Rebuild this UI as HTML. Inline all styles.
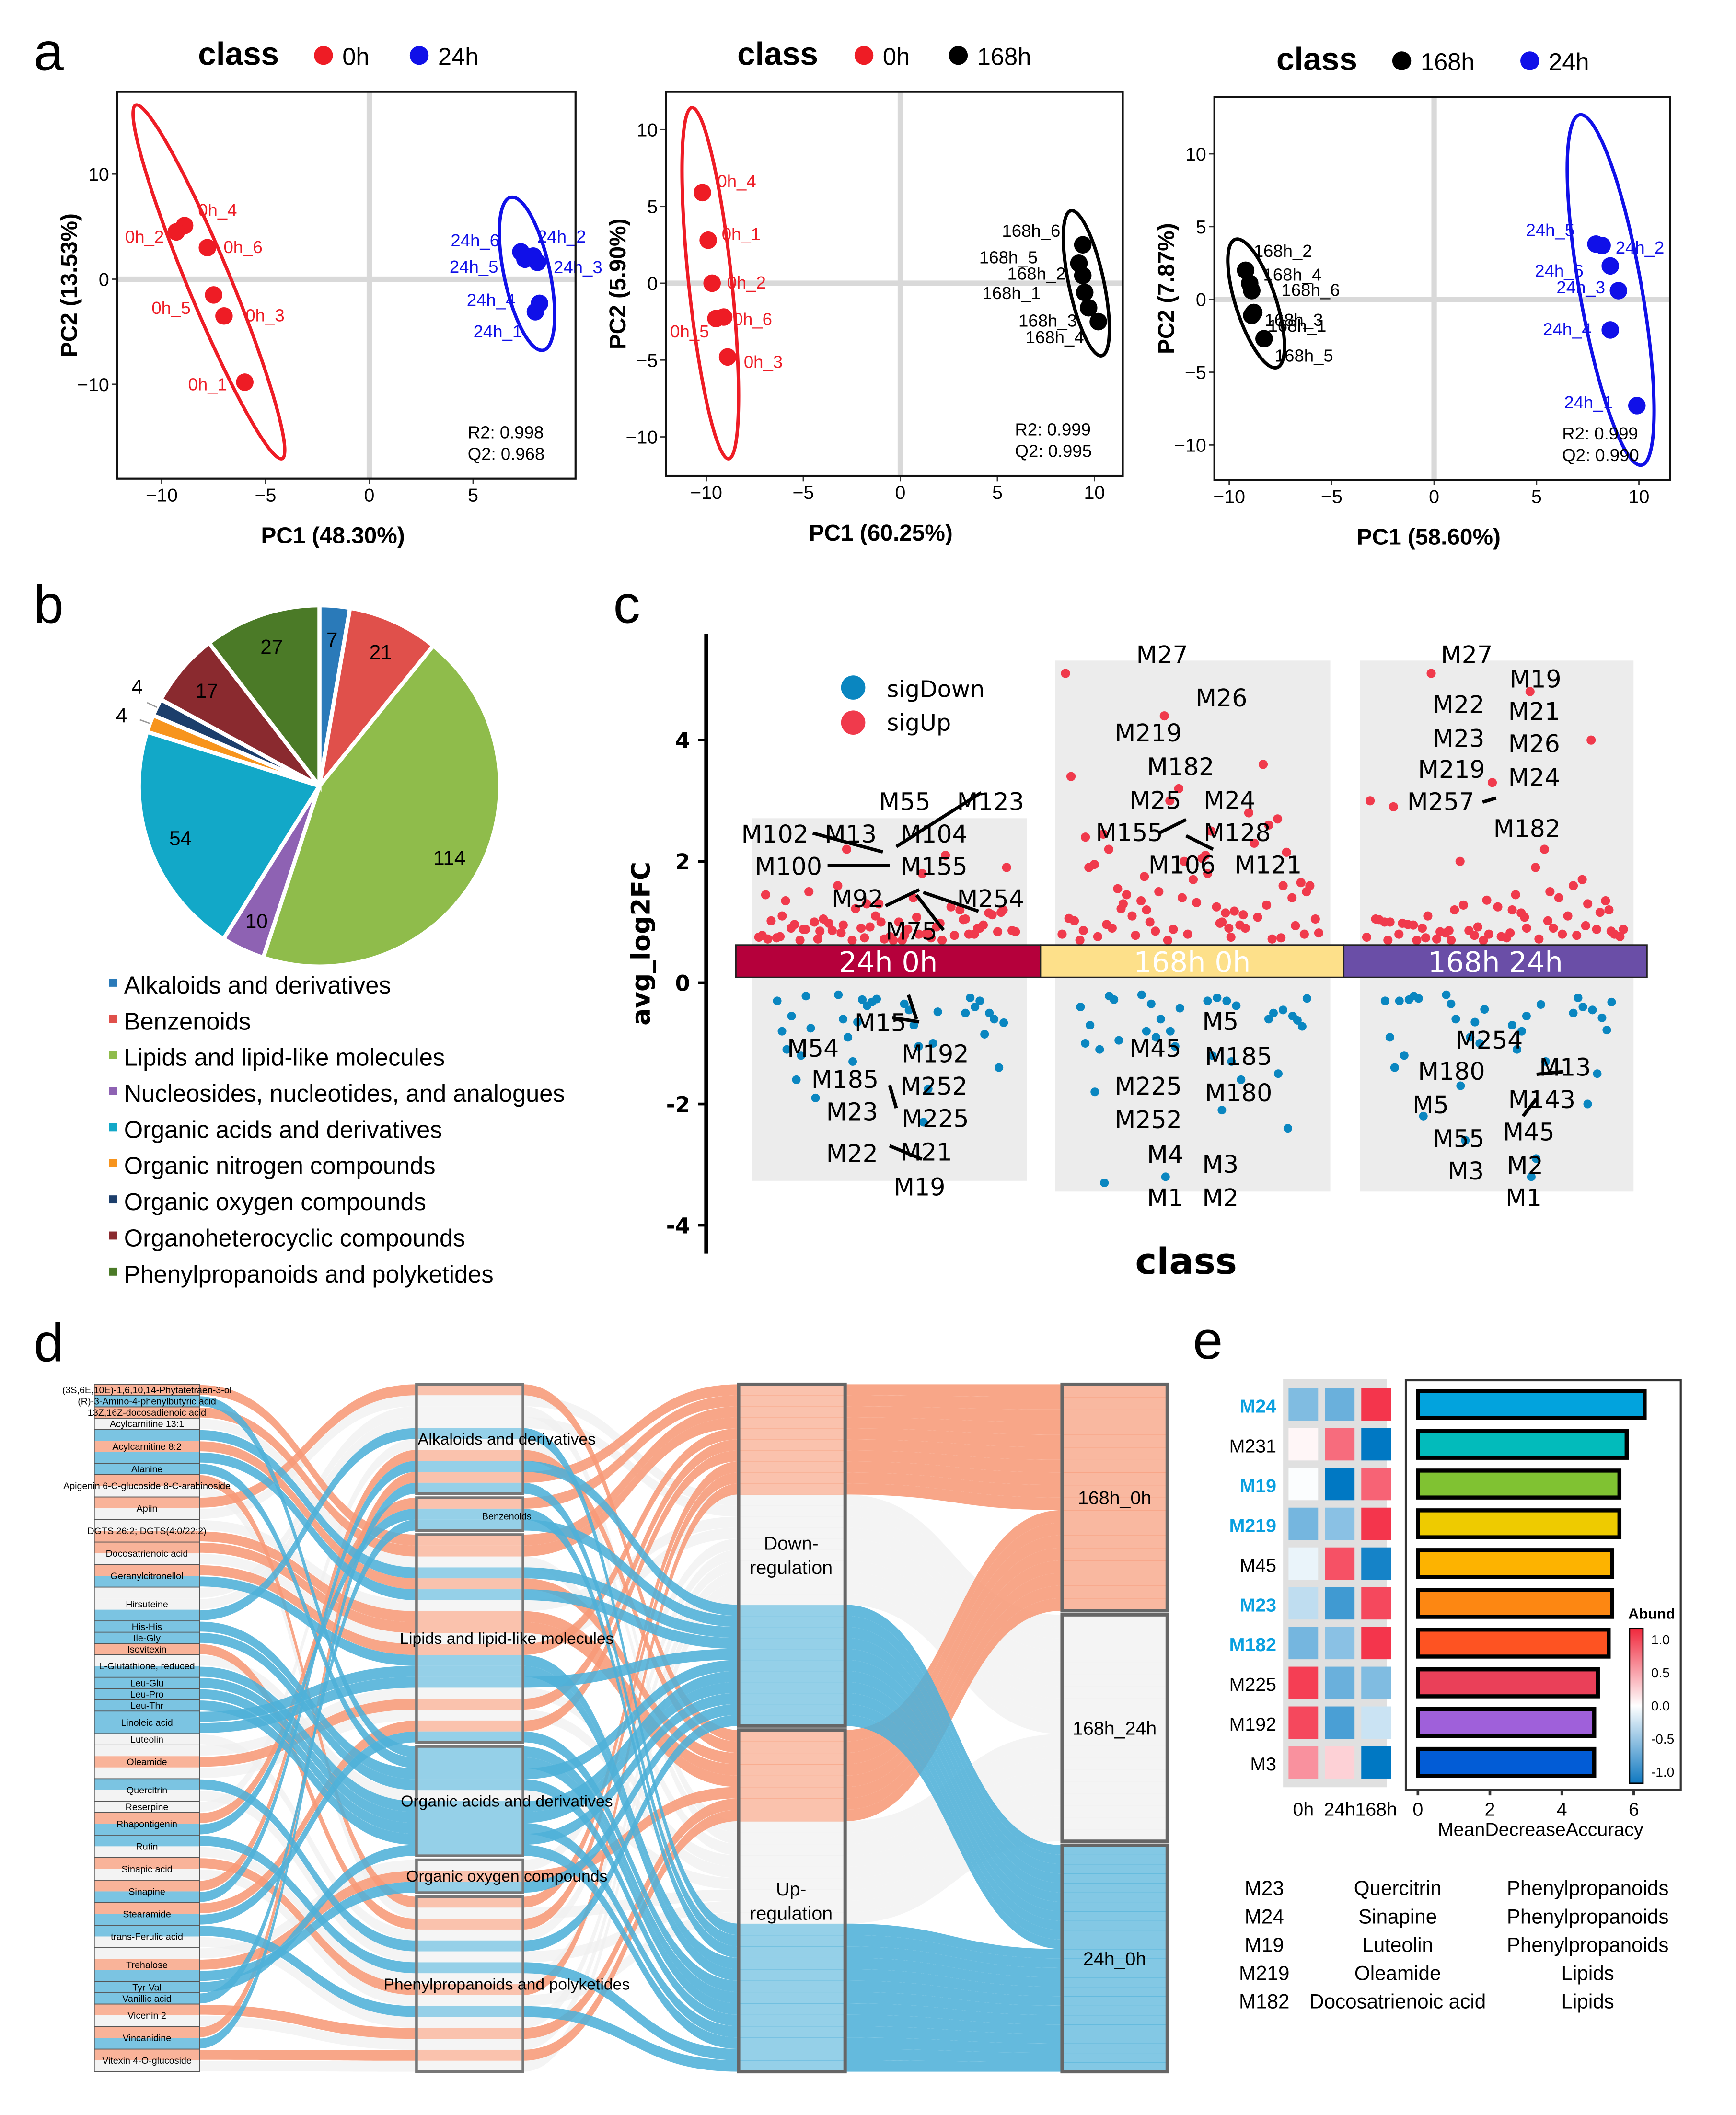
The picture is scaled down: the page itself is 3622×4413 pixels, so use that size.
<!DOCTYPE html>
<html><head><meta charset="utf-8"><style>
html,body{margin:0;padding:0;background:#fff}
svg{display:block;font-family:"Liberation Sans",Arial,sans-serif}
</style></head><body>
<svg id="fig" width="3622" height="4413" viewBox="0 0 1288 1569" xmlns="http://www.w3.org/2000/svg"></svg>
<script>
const NS='http://www.w3.org/2000/svg';
const svg=document.getElementById('fig');
function mk(tag,attrs,name,parent){
  const el=document.createElementNS(NS,tag);
  for(const k in attrs) el.setAttribute(k,attrs[k]);
  
  
  (parent||svg).appendChild(el);return el;
}
function txt(x,y,s,size,name,o){o=o||{};
  const el=mk('text',{x:x,y:y,'font-size':size,fill:o.fill||'#000','font-weight':o.bold?'bold':'normal','text-anchor':o.anchor||'start','font-family':o.font||'"Liberation Sans",Arial,sans-serif'},name,o.parent);
  if(o.rot!==undefined) el.setAttribute('transform','rotate('+o.rot+' '+x+' '+y+')');
  el.textContent=s;return el;}

/* ================= PANEL A: PCA data ================= */
const pca1_names_a=['0h_4','0h_2','0h_6','0h_5','0h_3','0h_1'];
const pca1_pc1_a=[-8.9,-9.3,-7.8,-7.5,-7.0,-6.0];
const pca1_pc2_a=[5.1,4.5,3.0,-1.5,-3.5,-9.8];
const pca1_names_b=['24h_6','24h_5','24h_2','24h_3','24h_4','24h_1'];
const pca1_pc1_b=[7.3,7.5,7.9,8.1,8.2,8.0];
const pca1_pc2_b=[2.6,1.9,2.2,1.6,-2.3,-3.1];
const pca2_names_a=['0h_4','0h_1','0h_2','0h_6','0h_5','0h_3'];
const pca2_pc1_a=[-10.2,-9.9,-9.7,-9.1,-9.5,-8.9];
const pca2_pc2_a=[5.9,2.8,0.0,-2.2,-2.3,-4.8];
const pca2_names_b=['168h_6','168h_5','168h_2','168h_1','168h_3','168h_4'];
const pca2_pc1_b=[9.4,9.2,9.4,9.5,9.7,10.2];
const pca2_pc2_b=[2.5,1.3,0.5,-0.6,-1.6,-2.5];
const pca3_names_a=['168h_2','168h_4','168h_6','168h_3','168h_1','168h_5'];
const pca3_pc1_a=[-9.2,-9.0,-8.9,-8.8,-8.9,-8.3];
const pca3_pc2_a=[2.0,1.1,0.6,-0.9,-1.1,-2.7];
const pca3_names_b=['24h_5','24h_2','24h_6','24h_3','24h_4','24h_1'];
const pca3_pc1_b=[7.9,8.2,8.6,9.0,8.6,9.9];
const pca3_pc2_b=[3.8,3.7,2.3,0.6,-2.1,-7.3];

function pca(c){
  const sx=v=>c.x0+v*c.kx, sy=v=>c.y0-v*c.ky;
  mk('line',{x1:sx(0),x2:sx(0),y1:c.box[1],y2:c.box[3],stroke:'#d9d9d9','stroke-width':4},'zero-line-x');
  mk('line',{x1:c.box[0],x2:c.box[2],y1:sy(0),y2:sy(0),stroke:'#d9d9d9','stroke-width':4},'zero-line-y');
  c.xt.forEach(v=>{mk('line',{x1:sx(v),x2:sx(v),y1:c.box[3],y2:c.box[3]+4,stroke:'#333'},'x-tick');txt(sx(v),c.box[3]+17,String(v).replace('-','−'),14,'x-tick-label',{anchor:'middle'});});
  c.yt.forEach(v=>{mk('line',{x1:c.box[0]-4,x2:c.box[0],y1:sy(v),y2:sy(v),stroke:'#333'},'y-tick');txt(c.box[0]-6,sy(v)+5,String(v).replace('-','−'),14,'y-tick-label',{anchor:'end'});});
  c.ell.forEach(e=>mk('ellipse',{cx:e[0],cy:e[1],rx:e[2],ry:e[3],transform:'rotate('+e[4]+' '+e[0]+' '+e[1]+')',fill:'none',stroke:e[5],'stroke-width':2.5},'confidence-ellipse'));
  c.groups.forEach(g=>{
    g.p1.forEach((v,i)=>{
      mk('circle',{cx:sx(v),cy:sy(g.p2[i]),r:6.5,fill:g.col},'sample-point');
      const off=g.off[i];
      txt(sx(v)+off[0],sy(g.p2[i])+off[1],g.names[i],13,'sample-label',{fill:g.col});
    });
  });
  mk('rect',{x:c.box[0],y:c.box[1],width:c.box[2]-c.box[0],height:c.box[3]-c.box[1],fill:'none',stroke:'#111','stroke-width':1.5},'plot-border');
  txt(c.box[2]-80,c.box[3]-30,'R2: '+c.r2,13,'r2-value');
  txt(c.box[2]-80,c.box[3]-14,'Q2: '+c.q2,13,'q2-value');
  txt((c.box[0]+c.box[2])/2-10,c.box[3]+48,c.xl,17,'x-axis-title',{bold:1,anchor:'middle'});
  txt(c.box[0]-30,(c.box[1]+c.box[3])/2,c.yl,17,'y-axis-title',{bold:1,anchor:'middle',rot:-90});
  txt(c.leg[0],c.leg[1],'class',24,'legend-title',{bold:1,anchor:'middle'});
  c.legItems.forEach(li=>{mk('circle',{cx:li[0],cy:c.leg[1]-7,r:7,fill:li[2]},'legend-key');txt(li[0]+14,c.leg[1],li[1],18,'legend-label');});
}
txt(25,52,'a',40,'panel-label-a');
pca({box:[87,68,427,355],x0:274,kx:15.4,y0:207,ky:7.8,xt:[-10,-5,0,5],yt:[10,0,-10],
 ell:[[155,209,16,142,-22.5,'#ee1c25'],[391,203,17,58,-12,'#1010e8']],
 groups:[{names:pca1_names_a,p1:pca1_pc1_a,p2:pca1_pc2_a,col:'#ee1c25',off:[[10,-7],[-38,8],[12,4],[-46,14],[16,4],[-42,6]]},
         {names:pca1_names_b,p1:pca1_pc1_b,p2:pca1_pc2_b,col:'#1010e8',off:[[-52,-4],[-56,10],[3,-10],[12,8],[-54,2],[-46,19]]}],
 r2:'0.998',q2:'0.968',xl:'PC1 (48.30%)',yl:'PC2 (13.53%)',leg:[177,48],legItems:[[240,'0h','#ee1c25'],[311,'24h','#1010e8']]});
pca({box:[494,68,833,353],x0:668,kx:14.4,y0:210,ky:11.4,xt:[-10,-5,0,5,10],yt:[10,5,0,-5,-10],
 ell:[[527,210,16,131,-6,'#ee1c25'],[806,210,13,55,-12,'#000']],
 groups:[{names:pca2_names_a,p1:pca2_pc1_a,p2:pca2_pc2_a,col:'#ee1c25',off:[[11,-4],[10,0],[11,4],[7,6],[-34,14],[12,8]]},
         {names:pca2_names_b,p1:pca2_pc1_b,p2:pca2_pc2_b,col:'#000',off:[[-60,-6],[-74,0],[-56,3],[-76,5],[-52,14],[-54,16]]}],
 r2:'0.999',q2:'0.995',xl:'PC1 (60.25%)',yl:'PC2 (5.90%)',leg:[577,48],legItems:[[641,'0h','#ee1c25'],[711,'168h','#000']]});
pca({box:[901,72,1239,356],x0:1064,kx:15.2,y0:222,ky:10.8,xt:[-10,-5,0,5,10],yt:[10,5,0,-5,-10],
 ell:[[932,225,15,50,-18,'#000'],[1195,215,23,132,-10,'#1010e8']],
 groups:[{names:pca3_names_a,p1:pca3_pc1_a,p2:pca3_pc2_a,col:'#000',off:[[6,-10],[10,-2],[22,4],[8,10],[12,12],[8,17]]},
         {names:pca3_names_b,p1:pca3_pc1_b,p2:pca3_pc2_b,col:'#1010e8',off:[[-52,-6],[10,6],[-56,8],[-46,2],[-50,4],[-54,2]]}],
 r2:'0.999',q2:'0.990',xl:'PC1 (58.60%)',yl:'PC2 (7.87%)',leg:[977,52],legItems:[[1040,'168h','#000'],[1135,'24h','#1010e8']]});

/* ================= PANEL B: pie ================= */
const pie_categories=['Alkaloids and derivatives','Benzenoids','Lipids and lipid-like molecules','Nucleosides, nucleotides, and analogues','Organic acids and derivatives','Organic nitrogen compounds','Organic oxygen compounds','Organoheterocyclic compounds','Phenylpropanoids and polyketides'];
const pie_values=[7,21,114,10,54,4,4,17,27];
const pie_colors=['#2a7ab9','#e0504b','#8fbc4b','#8e62b3','#12a8c8','#f7941d','#1c3e6b','#8a2a2f','#4b7a27'];
txt(25,462,'b',40,'panel-label-b');
(function(){
  const cx=237,cy=583,r=134,tot=pie_values.reduce((a,b)=>a+b,0);
  let a0=-Math.PI/2;
  pie_values.forEach((v,i)=>{
    const a1=a0+v/tot*2*Math.PI;
    const large=(a1-a0)>Math.PI?1:0;
    const d='M'+cx+','+cy+'L'+(cx+r*Math.cos(a0))+','+(cy+r*Math.sin(a0))+'A'+r+','+r+' 0 '+large+' 1 '+(cx+r*Math.cos(a1))+','+(cy+r*Math.sin(a1))+'Z';
    mk('path',{d:d,fill:pie_colors[i],stroke:'#fff','stroke-width':3},'pie-slice-'+i);
    const am=(a0+a1)/2;
    if(v>5){const lr=r*0.82;txt(cx+lr*Math.cos(am),cy+lr*Math.sin(am)+6,String(v),15,'pie-value-label',{anchor:'middle'});}
    else{const lr=r+14;mk('line',{x1:cx+r*Math.cos(am),y1:cy+r*Math.sin(am),x2:cx+(r+8)*Math.cos(am),y2:cy+(r+8)*Math.sin(am),stroke:'#999'},'pie-leader');
      txt(cx+lr*Math.cos(am)-(i===5?8:2),cy+lr*Math.sin(am)+(i===5?4:-4),String(v),15,'pie-value-label',{anchor:'middle'});}
    a0=a1;
  });
  pie_categories.forEach((c,i)=>{
    const y=731+i*26.8;
    mk('rect',{x:81,y:y-5,width:6,height:6,fill:pie_colors[i]},'legend-swatch');
    txt(92,y+6,c,18,'legend-label');
  });
})();

/* ================= PANEL C: volcano/strip ================= */
const vol_groups=['24h_0h','168h_0h','168h_24h'];
const vol_up_g1=[0.75,0.8,0.85,0.9,1.0,1.1,0.7,0.95,1.2,0.78,0.88,1.05,1.3,0.72,0.82,0.98,1.15,0.76,0.9,1.25,0.7,0.86,1.4,1.0,0.8,1.1,0.74,0.92,1.6,0.84,1.0,0.7,1.2,0.9,0.78,1.8,1.05,0.95,0.72,1.35,2.1,2.2,1.9,0.88,1.5,0.8,0.92,1.02,0.74,0.86,1.12,0.7,0.96,0.78,1.22,0.84,1.08,0.72,0.9,1.3,0.76,0.98,0.82,1.16,0.7,0.88,1.04,0.74,1.45,0.8];
const vol_down_g1=[-0.2,-0.3,-0.5,-0.35,-0.6,-0.8,-0.25,-0.45,-0.9,-1.1,-0.4,-0.7,-1.3,-0.55,-0.3,-1.05,-0.65,-1.6,-0.85,-2.3,-0.28,-1.2,-0.5,-1.75,-0.38,-0.22,-0.6,-1.0,-0.32,-0.75,-1.4,-0.48,-0.27,-1.9,-0.66];
const vol_up_g2=[0.8,1.0,1.3,1.6,2.0,2.4,0.9,1.2,1.5,1.8,2.2,2.6,3.0,3.4,0.75,1.1,1.4,1.7,1.95,2.3,0.85,1.05,1.25,1.55,2.7,3.2,0.7,0.95,1.35,1.65,2.05,2.45,3.6,4.4,5.1,1.15,1.45,2.15,0.8,1.9,2.8,1.0,1.6,2.5,0.9,0.72,0.88,1.02,1.18,0.78,0.94,1.32,0.76,1.08,1.5,0.82,0.98,1.22,0.74,1.4,0.86,1.12,1.75,0.8,2.1,0.96,1.28,0.7,1.06,0.9];
const vol_down_g2=[-0.2,-0.4,-0.6,-0.3,-0.8,-1.0,-0.5,-1.2,-0.35,-0.7,-1.5,-0.25,-0.9,-1.8,-0.45,-2.1,-0.6,-1.1,-2.4,-0.3,-3.2,-3.3,-0.55,-1.3,-0.8,-0.22,-0.62,-0.38,-1.05,-0.28,-0.72,-1.6,-0.42,-0.95,-0.26];
const vol_up_g3=[0.75,0.9,1.1,1.3,0.8,1.0,1.5,0.7,0.85,1.2,0.95,1.6,0.78,1.05,1.9,0.72,0.88,1.25,0.8,1.4,2.0,0.76,1.15,0.9,1.7,0.7,1.0,2.2,0.82,1.35,0.74,0.96,1.1,0.86,3.0,4.8,5.1,4.0,3.3,2.9,0.9,1.2,0.8,1.45,0.7,0.78,0.92,1.04,0.72,0.84,1.16,0.76,0.98,0.8,1.28,0.88,1.08,0.74,0.94,1.36,0.7,1.02,0.86,1.2,0.82];
const vol_down_g3=[-0.2,-0.3,-0.5,-0.7,-0.35,-0.9,-0.25,-1.1,-0.6,-1.4,-0.4,-0.8,-1.7,-0.3,-2.0,-0.55,-2.6,-1.2,-0.45,-3.2,-0.9,-0.28,-1.5,-2.9,-0.65,-0.22,-0.58,-0.36,-1.0,-0.26,-0.78,-1.3,-0.44,-2.2,-0.32];
const vol_ticks=[4,2,0,-2,-4];
const vol_labels_g1=['M55','M123','M102','M13','M104','M100','M155','M92','M254','M75','M15','M54','M192','M185','M252','M23','M225','M22','M21','M19'];
const vol_labels_g2=['M27','M26','M219','M182','M25','M24','M155','M128','M106','M121','M5','M45','M185','M225','M180','M252','M4','M3','M1','M2'];
const vol_labels_g3=['M27','M19','M22','M21','M23','M26','M219','M24','M257','M182','M254','M180','M13','M5','M143','M55','M45','M3','M2','M1'];
(function(){
  const y0=729,ky=45,sy=v=>y0-v*ky;
  txt(455,462,'c',40,'panel-label-c');
  const boxes=[[558,607,762,876],[783,490,987,884],[1009,490,1212,884]];
  boxes.forEach(b=>mk('rect',{x:b[0],y:b[1],width:b[2]-b[0],height:b[3]-b[1],fill:'#ececec'},'group-panel-bg'));
  const ups=[vol_up_g1,vol_up_g2,vol_up_g3],downs=[vol_down_g1,vol_down_g2,vol_down_g3];
  const centers=[659,884,1110];
  ups.forEach((arr,g)=>arr.forEach((v,i)=>{const j=((i*0.618034)%1)-0.5;mk('circle',{cx:centers[g]+j*192,cy:sy(v),r:3.4,fill:'#f03a4c'},'sigup-point');}));
  downs.forEach((arr,g)=>arr.forEach((v,i)=>{const j=((i*0.7548+0.3)%1)-0.5;mk('circle',{cx:centers[g]+j*185,cy:sy(v),r:3.2,fill:'#0a86c0'},'sigdown-point');}));
  const bars=[[546,772,'#b5003b','24h_0h'],[772,997,'#fde08a','168h_0h'],[997,1222,'#6a4ea7','168h_24h']];
  bars.forEach(b=>{mk('rect',{x:b[0],y:701,width:b[1]-b[0],height:24,fill:b[2],stroke:'#222','stroke-width':1},'group-bar');
    txt((b[0]+b[1])/2,721,b[3].replace('_',' '),21,'group-bar-label',{fill:'#fff',anchor:'middle',font:'"DejaVu Sans",sans-serif'});});
  mk('line',{x1:524,x2:524,y1:470,y2:930,stroke:'#000','stroke-width':3},'y-axis-line');
  vol_ticks.forEach(v=>{mk('line',{x1:518,x2:524,y1:sy(v),y2:sy(v),stroke:'#000','stroke-width':2},'y-tick');
    txt(512,sy(v)+6,String(v),16,'y-tick-label',{bold:1,anchor:'end',font:'"DejaVu Sans",sans-serif'});});
  txt(482,700,'avg_log2FC',19,'y-axis-title',{bold:1,anchor:'middle',rot:-90,font:'"DejaVu Sans",sans-serif'});
  txt(880,945,'class',27,'x-axis-title',{bold:1,anchor:'middle',font:'"DejaVu Sans",sans-serif'});
  mk('circle',{cx:633,cy:510,r:9,fill:'#0a86c0'},'legend-key-sigdown');
  txt(658,517,'sigDown',17,'legend-label',{font:'"DejaVu Sans",sans-serif'});
  mk('circle',{cx:633,cy:536,r:9,fill:'#f03a4c'},'legend-key-sigup');
  txt(658,542,'sigUp',17,'legend-label',{font:'"DejaVu Sans",sans-serif'});
  const pos1=[[652,601],[710,601],[550,625],[612,625],[668,625],[560,649],[668,649],[617,673],[710,673],[657,697],[634,765],[584,784],[669,788],[602,807],[668,812],[613,831],[669,836],[613,862],[668,861],[663,887]];
  const pos2=[[843,492],[887,524],[827,550],[851,575],[838,600],[893,600],[813,624],[893,624],[852,648],[916,648],[892,764],[838,784],[894,790],[827,812],[894,817],[827,837],[851,863],[892,870],[851,895],[892,895]];
  const pos3=[[1069,492],[1120,510],[1063,529],[1119,534],[1063,554],[1119,558],[1052,577],[1119,583],[1044,601],[1108,621],[1080,778],[1052,801],[1142,798],[1048,826],[1119,822],[1063,851],[1115,846],[1074,875],[1118,871],[1117,895]];
  [[vol_labels_g1,pos1],[vol_labels_g2,pos2],[vol_labels_g3,pos3]].forEach(p=>p[0].forEach((l,i)=>txt(p[1][i][0],p[1][i][1],l,18,'point-label',{font:'"DejaVu Sans",sans-serif'})));
  const lines=[[603,618,655,632],[614,642,660,642],[728,588,665,628],[657,672,682,660],[685,662,726,676],[680,664,700,690],[674,738,680,756],[662,755,682,758],[660,805,665,822],[660,850,684,860],[1100,595,1110,592],[880,620,900,630],[880,608,860,618],[1140,797,1160,795],[1140,815,1130,828]];
  lines.forEach(l=>mk('line',{x1:l[0],y1:l[1],x2:l[2],y2:l[3],stroke:'#000','stroke-width':2.5},'label-leader'));
})();

/* ================= PANEL D: sankey ================= */
const sk_items=['(3S,6E,10E)-1,6,10,14-Phytatetraen-3-ol','(R)-3-Amino-4-phenylbutyric acid','13Z,16Z-docosadienoic acid','Acylcarnitine 13:1','Acylcarnitine 8:2','Alanine','Apigenin 6-C-glucoside 8-C-arabinoside','Apiin','DGTS 26:2; DGTS(4:0/22:2)','Docosatrienoic acid','Geranylcitronellol','Hirsuteine','His-His','Ile-Gly','Isovitexin','L-Glutathione, reduced','Leu-Glu','Leu-Pro','Leu-Thr','Linoleic acid','Luteolin','Oleamide','Quercitrin','Reserpine','Rhapontigenin','Rutin','Sinapic acid','Sinapine','Stearamide','trans-Ferulic acid','Trehalose','Tyr-Val','Vanillic acid','Vicenin 2','Vincanidine','Vitexin 4-O-glucoside'];
const sk_cat=['L','O','L','L','L','O','P','A','L','L','L','A','O','O','P','O','O','O','O','L','P','L','P','A','B','P','P','A','L','P','X','O','B','P','A','P'];
const sk_flows=['o','b','o','w','bob','b','ow','ow','wo','ow','ob','wwb','b','b','o','wb','b','b','b','bb','w','wow','bw','w','ob','bw','ow','ob','ob','bw','wob','b','b','ow','ob','ow'];
const sk_cats=['A','B','L','O','X','P'];
const sk_cat_names=['Alkaloids and derivatives','Benzenoids','Lipids and lipid-like molecules','Organic acids and derivatives','Organic oxygen compounds','Phenylpropanoids and polyketides'];
const sk_classes=['168h_0h','168h_24h','24h_0h'];
const sk_regs=['Down-\nregulation','Up-\nregulation'];
(function(){
  txt(25,1010,'d',40,'panel-label-d');
  const col={o:'#f79a77',b:'#4fb0d8',w:'#efefef'};
  const bands=[];
  sk_flows.forEach((f,i)=>f.split('').forEach((c,k)=>bands.push({item:i,c:c,cat:sk_cats.indexOf(sk_cat[i]),cls:c==='o'?0:(c==='w'?1:2),reg:(i+k)%2})));
  const N=bands.length,top=1027,H=510,gap=3,bh=(H-5*gap)/N,bhL=H/N;
  let y=top;const itemY=[];
  sk_flows.forEach((f,i)=>{itemY.push([y,y+f.length*bhL]);y+=f.length*bhL;});
  let idx=0;sk_flows.forEach((f,i)=>{for(let k=0;k<f.length;k++){bands[idx].yl=itemY[i][0]+k*bhL;idx++;}});
  // category nodes
  let yy=top;const catR=[];
  for(let g=0;g<6;g++){const st=yy;bands.filter(b=>b.cat===g).sort((a,b)=>a.yl-b.yl).forEach(b=>{b.ym=yy;b.hm=bh;yy+=bh;});catR.push([st,yy]);yy+=gap;}
  // regulation nodes: equal halves
  const regH=(H-3)/2;const regR=[];
  for(let g=0;g<2;g++){const st=top+g*(regH+3);const bs=bands.filter(b=>b.reg===g).sort((a,b)=>a.cls-b.cls||a.ym-b.ym);const h=regH/bs.length;bs.forEach((b,k)=>{b.yr=st+k*h;b.hr=h;});regR.push([st,st+regH]);}
  // class nodes: equal thirds
  const clsH=(H-6)/3;const clsR=[];
  for(let c=0;c<3;c++){const st=top+c*(clsH+3);const bs=bands.filter(b=>b.cls===c).sort((a,b)=>a.reg-b.reg||a.yr-b.yr);const h=clsH/bs.length;bs.forEach((b,k)=>{b.yc=st+k*h;b.hc=h;});clsR.push([st,st+clsH]);}
  function rib(x0,y0,h0,x1,y1,h1,c,name){const xm=(x0+x1)/2;
    const d='M'+x0+','+y0+'C'+xm+','+y0+' '+xm+','+y1+' '+x1+','+y1+'L'+x1+','+(y1+h1)+'C'+xm+','+(y1+h1)+' '+xm+','+(y0+h0)+' '+x0+','+(y0+h0)+'Z';
    mk('path',{d:d,fill:col[c],opacity:c==='w'?0.7:0.88},name);}
  ['w','o','b'].forEach(cc=>bands.filter(b=>b.c===cc).forEach(b=>{
    rib(148,b.yl+0.5,bhL-1,309,b.ym,b.hm,b.c,'flow-item-to-category');
    rib(388,b.ym,b.hm,548,b.yr,b.hr,b.c,'flow-category-to-regulation');
    rib(627,b.yr,b.hr,788,b.yc,b.hc,b.c,'flow-regulation-to-class');
  }));
  bands.forEach(b=>{
    mk('rect',{x:309,y:b.ym,width:79,height:b.hm,fill:col[b.c],opacity:0.6},'category-node-band');
    mk('rect',{x:548,y:b.yr,width:79,height:b.hr+0.3,fill:col[b.c],opacity:0.6},'regulation-node-band');
    mk('rect',{x:788,y:b.yc,width:78,height:b.hc+0.3,fill:col[b.c],opacity:0.7},'class-node-band');
    mk('rect',{x:70,y:b.yl,width:78,height:bhL,fill:col[b.c],opacity:0.75},'item-node-band');
  });
  itemY.forEach((r,i)=>{mk('rect',{x:70,y:r[0],width:78,height:r[1]-r[0],fill:'none',stroke:'#555','stroke-width':0.6},'item-node');
    txt(109,(r[0]+r[1])/2+2.5,sk_items[i],7,'item-label',{anchor:'middle'});});
  catR.forEach((r,i)=>{mk('rect',{x:309,y:r[0],width:79,height:r[1]-r[0],fill:'none',stroke:'#777','stroke-width':2},'category-node');
    txt(376,(r[0]+r[1])/2+4,sk_cat_names[i],i===1?7:12,'category-label',{anchor:'middle'});});
  regR.forEach((r,i)=>{mk('rect',{x:548,y:r[0],width:79,height:r[1]-r[0],fill:'none',stroke:'#666','stroke-width':2.5},'regulation-node');
    const p=sk_regs[i].split('\n');txt(587,(r[0]+r[1])/2-4,p[0],14,'regulation-label',{anchor:'middle'});txt(587,(r[0]+r[1])/2+14,p[1],14,'regulation-label',{anchor:'middle'});});
  clsR.forEach((r,i)=>{mk('rect',{x:788,y:r[0],width:78,height:r[1]-r[0],fill:'none',stroke:'#666','stroke-width':2.5},'class-node');
    txt(827,(r[0]+r[1])/2+5,sk_classes[i],14,'class-label',{anchor:'middle'});});
})();

/* ================= PANEL E: heatmap + importance bars ================= */
const imp_features=['M24','M231','M19','M219','M45','M23','M182','M225','M192','M3'];
const imp_values=[6.3,5.8,5.6,5.6,5.4,5.4,5.3,5.0,4.9,4.9];
const imp_highlight=[1,0,1,1,0,1,1,0,0,0];
const heat_cols=['0h','24h','168h'];
const heat_0h=[-0.6,0.05,-0.02,-0.65,-0.1,-0.3,-0.65,1.05,1.0,0.6];
const heat_24h=[-0.7,0.8,-1.2,-0.55,0.95,-0.9,-0.55,-0.7,-0.85,0.25];
const heat_168h=[1.1,-1.2,0.85,1.1,-1.1,1.0,1.1,-0.6,-0.25,-1.2];
const imp_ticks=[0,2,4,6];
const legend_ticks=[1.0,0.5,0.0,-0.5,-1.0];
const bar_colors=['#02a3dd','#02bbbb','#80c232','#eecb00','#fdb300','#fd8712','#fe5322','#ea4059','#9f60da','#025cd6'];
(function(){
  txt(885,1008,'e',40,'panel-label-e');
  function heatColor(v){v=Math.max(-1.2,Math.min(1.2,v))/1.2;
    if(v>=0){const t=v;return 'rgb('+Math.round(255-(255-243)*t)+','+Math.round(255-(255-35)*t)+','+Math.round(255-(255-60)*t)+')';}
    const t=-v;return 'rgb('+Math.round(255-(255-0)*t)+','+Math.round(255-(255-120)*t)+','+Math.round(255-(255-195)*t)+')';}
  const rowY=i=>1030+i*29.5;
  mk('rect',{x:952,y:1023,width:77,height:303,fill:'#e0e0e0'},'heatmap-bg');
  const cols=[heat_0h,heat_24h,heat_168h];const cx=[956,983,1010];
  imp_features.forEach((f,i)=>{
    cols.forEach((arr,j)=>mk('rect',{x:cx[j],y:rowY(i),width:22,height:24,fill:heatColor(arr[i])},'heatmap-cell'));
    txt(947,rowY(i)+18,f,14,'feature-label',{anchor:'end',bold:imp_highlight[i],fill:imp_highlight[i]?'#0aa0e0':'#000'});
  });
  heat_cols.forEach((c,j)=>txt(cx[j]+11,1347,c,14,'heatmap-col-label',{anchor:'middle'}));
  const x0=1052,kx=26.7;
  mk('rect',{x:1043,y:1024,width:204,height:304,fill:'#fff',stroke:'#333','stroke-width':1.5},'importance-plot-border');
  imp_values.forEach((v,i)=>mk('rect',{x:x0,y:rowY(i)+2,width:v*kx,height:20,fill:bar_colors[i],stroke:'#000','stroke-width':3},'importance-bar'));
  imp_ticks.forEach(t=>{mk('line',{x1:x0+t*kx,x2:x0+t*kx,y1:1328,y2:1332,stroke:'#333','stroke-width':2},'x-tick');
    txt(x0+t*kx,1347,String(t),14,'x-tick-label',{anchor:'middle'});});
  txt(1143,1362,'MeanDecreaseAccuracy',14,'x-axis-title',{anchor:'middle'});
  txt(1208,1201,'Abund',11,'legend-title',{bold:1});
  const defs=mk('defs',{},'defs');
  const lg=mk('linearGradient',{id:'abund',x1:0,y1:0,x2:0,y2:1},'abund-gradient',defs);
  [[0,'#f0283c'],[0.5,'#ffffff'],[1,'#0f78c0']].forEach(s=>mk('stop',{offset:s[0],'stop-color':s[1]},'gradient-stop',lg));
  mk('rect',{x:1209,y:1208,width:10,height:115,fill:'url(#abund)',stroke:'#000','stroke-width':1},'color-scale-bar');
  legend_ticks.forEach(t=>{const yy=1265-t*49;txt(1225,yy+4,t.toFixed(1),10,'color-scale-label');});
  const tbl=[['M23','Quercitrin','Phenylpropanoids'],['M24','Sinapine','Phenylpropanoids'],['M19','Luteolin','Phenylpropanoids'],['M219','Oleamide','Lipids'],['M182','Docosatrienoic acid','Lipids']];
  tbl.forEach((r,i)=>{const y=1406+i*21;txt(938,y,r[0],15,'table-id',{anchor:'middle'});txt(1037,y,r[1],15,'table-name',{anchor:'middle'});txt(1178,y,r[2],15,'table-class',{anchor:'middle'});});
})();
</script>
</body></html>
